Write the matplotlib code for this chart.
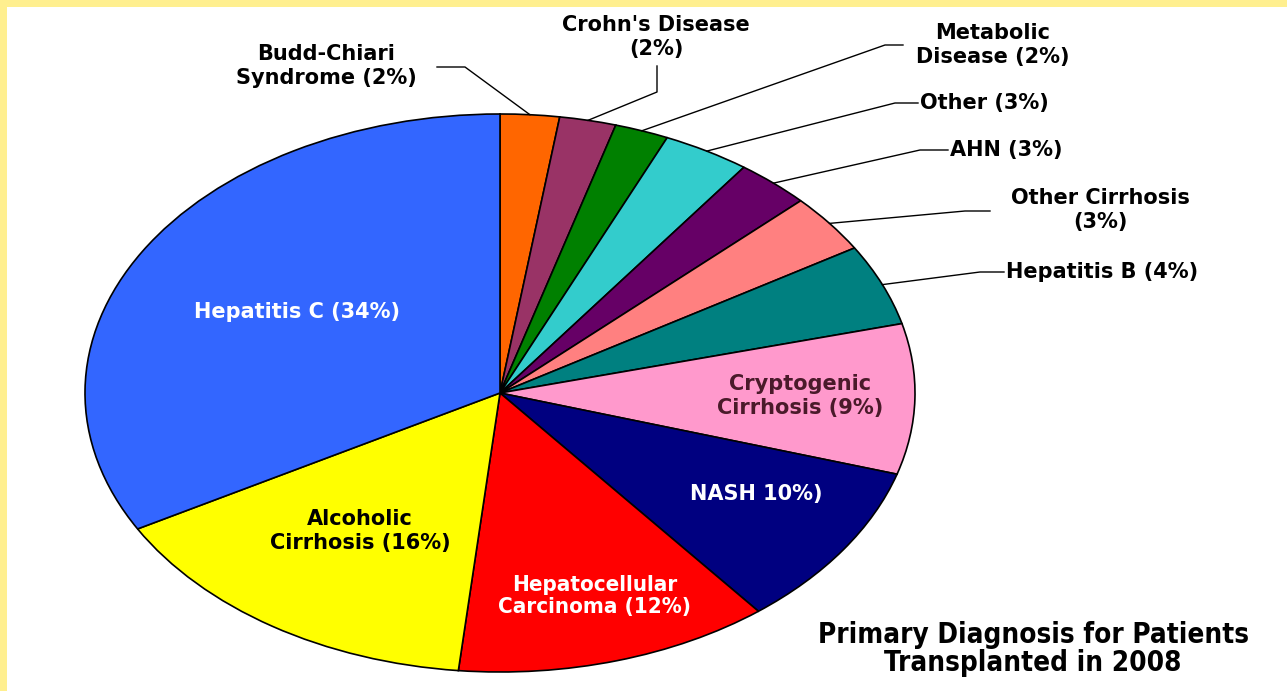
import matplotlib
matplotlib.use("Agg")
import matplotlib.pyplot as plt
from matplotlib.lines import Line2D
from matplotlib.patches import Rectangle
import numpy as np

W, H = 1287, 691

# Slices run clockwise from 12 o'clock.
diagnoses = ["Budd-Chiari", "Crohn's", "Metabolic", "Other", "AHN",
             "Other Cirrhosis", "Hepatitis B", "Cryptogenic", "NASH",
             "Hepatocellular", "Alcoholic", "Hepatitis C"]
shares = [2.3, 2.2, 2.1, 3.4, 2.9, 3.4, 4.7, 8.7, 9.6, 12.3, 15.3, 33.1]
labels = ["Budd-Chiari\nSyndrome (2%)", "Crohn's Disease\n(2%)",
          "Metabolic\nDisease (2%)", "Other (3%)", "AHN (3%)",
          "Other Cirrhosis\n(3%)", "Hepatitis B (4%)",
          "Cryptogenic\nCirrhosis (9%)", "NASH 10%)",
          "Hepatocellular\nCarcinoma (12%)", "Alcoholic\nCirrhosis (16%)",
          "Hepatitis C (34%)"]
colors = ["#FF6600", "#993366", "#008000", "#33CCCC", "#660066", "#FF8080",
          "#008080", "#FF99CC", "#000080", "#FF0000", "#FFFF00", "#3366FF"]
title = "Primary Diagnosis for Patients\nTransplanted in 2008"

# outside labels: elbow, line end, text position, alignment (pixels)
outside = {
    0: ((465, 67), (437, 67), (326, 66), "center"),
    1: ((657, 92), (657, 66), (656, 37), "center"),
    2: ((885, 45), (903, 45), (993, 45), "center"),
    3: ((895, 103), (918, 103), (920, 103), "left"),
    4: ((920, 150), (948, 150), (950, 150), "left"),
    5: ((965, 211), (990, 211), (1100, 210), "center"),
    6: ((980, 272), (1004, 272), (1006, 272), "left"),
}
# inside labels: text position, colour, font
inside = {
    7: ((800, 396), "#4A1A2A", "wide"),
    8: ((756, 494), "white", "wide"),
    9: ((595, 596), "white", "narrow"),
    10: ((360, 531), "black", "wide"),
    11: ((297, 312), "white", "wide"),
}


def px(x, y):
    return x / W, 1 - y / H


fig = plt.figure(figsize=(W / 100, H / 100), dpi=100, facecolor="white")

# yellow frame on top and left edge
fig.patches.append(Rectangle((0, 1 - 7 / H), 1, 7 / H, transform=fig.transFigure,
                             facecolor="#FFEF8F", edgecolor="none"))
fig.patches.append(Rectangle((0, 0), 7 / W, 1, transform=fig.transFigure,
                             facecolor="#FFEF8F", edgecolor="none"))

cx, cy, rx, ry = 500, 393, 415, 279
ax = fig.add_axes([(cx - rx) / W, 1 - (cy + ry) / H, 2 * rx / W, 2 * ry / H])
wedges, _ = ax.pie(shares, colors=colors, startangle=90, counterclock=False,
                   wedgeprops=dict(edgecolor="black", linewidth=1.2))
for w in wedges:
    w.set_clip_on(False)
ax.set_xlim(-1, 1)
ax.set_ylim(-1, 1)
ax.set_aspect("auto")
ax.axis("off")

to_fig = fig.transFigure.inverted()
for i, (elbow, end, txt, ha) in outside.items():
    w = wedges[i]
    mid = np.deg2rad((w.theta1 + w.theta2) / 2)
    anchor = to_fig.transform(ax.transData.transform((np.cos(mid), np.sin(mid))))
    pts = [tuple(anchor), px(*elbow), px(*end)]
    fig.add_artist(Line2D([p[0] for p in pts], [p[1] for p in pts],
                          transform=fig.transFigure, color="black", lw=1))
    fig.text(*px(*txt), labels[i], ha=ha, va="center", multialignment="center",
             fontsize=15, fontweight="bold", family="DejaVu Sans",
             linespacing=1.2)

for i, (txt, col, kind) in inside.items():
    narrow = kind == "narrow"
    fig.text(*px(*txt), labels[i], ha="center", va="center",
             multialignment="center", fontsize=16 if narrow else 15,
             fontweight="bold", family="DejaVu Sans",
             fontstretch="condensed" if narrow else "normal",
             color=col, linespacing=1.1 if narrow else 1.2)

fig.text(*px(1033, 649), title, ha="center", va="center",
         multialignment="center", fontsize=20, fontweight="bold",
         family="DejaVu Sans", fontstretch="condensed", linespacing=1.0)

fig.savefig("out.png", dpi=100)
